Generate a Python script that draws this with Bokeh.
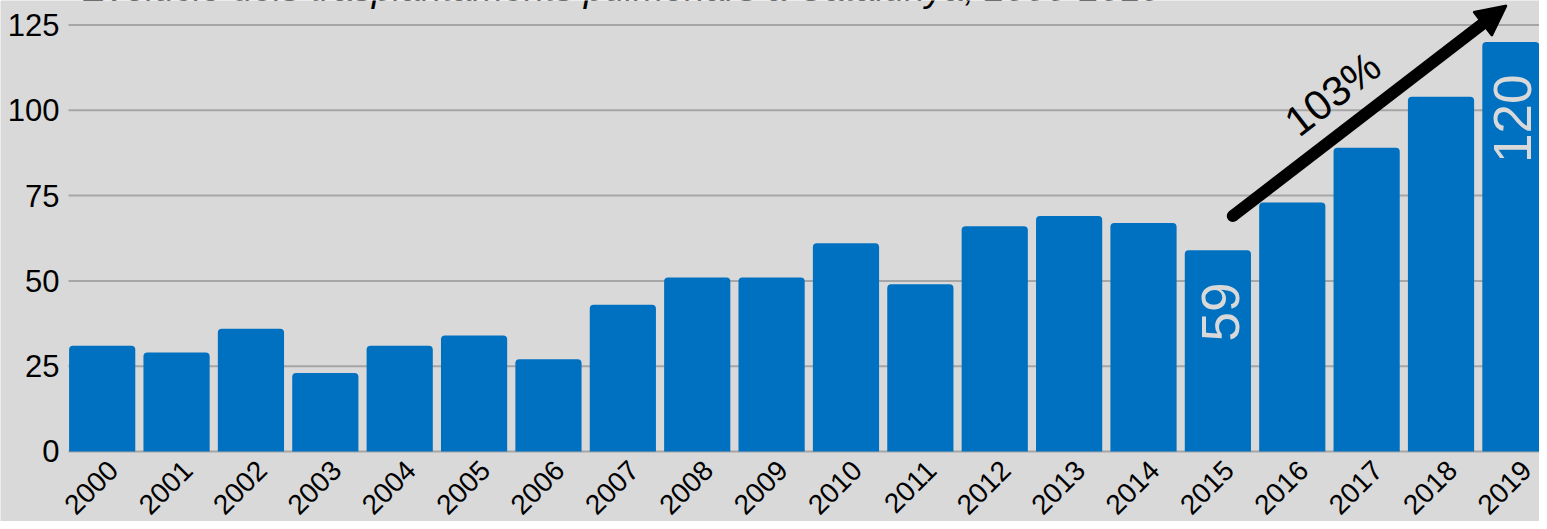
import math
from bokeh.plotting import figure
from bokeh.models import Range1d, Arrow, NormalHead, Label, ColumnDataSource
from bokeh.embed import file_html
from bokeh.resources import INLINE
from bokeh.core.properties import value

# ---- data ----
years = list(range(2000, 2020))
year_labels = [str(y) for y in years]
transplants = [31, 29, 36, 23, 31, 34, 27, 43, 51, 51, 61, 49, 66, 69, 67, 59, 73, 89, 104, 120]
y_ticks = [0, 25, 50, 75, 100, 125]
y_tick_labels = [str(t) for t in y_ticks]
labelled_idx = [15, 19]          # bars whose value is written inside (2015, 2019)
title_text = "Evolució dels trasplantaments pulmonars a Catalunya, 2000-2019"

# ---- styles / layout ----
BG = "#d9d9d9"
BAR = "#0070c0"
GRID = "#a6a6a6"
FONT = "Liberation Sans"
W, H = 1539, 521
PLOT_X0 = 1999.547               # left edge of the plotting area (data units)
AXIS_PAD = 0.121                 # gap between y labels and plotting area
YEAR_SHIFT = 0.15                # year labels end slightly right of bar centre
YEAR_DROP = 4.1                  # year labels sit this far below the zero line
VALUE_INSET = 9.5                # value labels end this far under bar top
VALUE_DX = [0.04, -0.04]

# the frame covers the whole figure; axes are drawn as text/segment marks so that
# rotated year labels and tick labels are never clipped by a frame border
p = figure(width=W, height=H, output_backend="svg", toolbar_location=None,
           x_range=Range1d(1998.633, 2019.324), y_range=Range1d(-20.52, 132.18),
           min_border_left=0, min_border_right=0, min_border_top=0, min_border_bottom=0)
p.background_fill_color = BG
p.border_fill_color = BG
p.outline_line_color = None
p.grid.grid_line_color = None
p.xaxis.visible = False
p.yaxis.visible = False

# horizontal gridlines
xr_end = p.x_range.end
p.segment(x0=[PLOT_X0] * len(y_ticks), y0=y_ticks, x1=[xr_end] * len(y_ticks), y1=y_ticks,
          line_color=GRID, line_width=2)

# y tick labels
p.text(x=[PLOT_X0 - AXIS_PAD] * len(y_ticks), y=y_ticks, text=y_tick_labels,
       text_align="right", text_baseline="middle", text_color="black",
       text_font=value(FONT), text_font_size="31px")

# bars
src = ColumnDataSource(dict(year=years, n=transplants))
p.vbar(x="year", top="n", width=0.89, source=src, fill_color=BAR, line_color=None,
       border_radius=(4, 4, 0, 0))

# rotated year labels under the bars
ys = ColumnDataSource(dict(x=[y + YEAR_SHIFT for y in years],
                           y=[-YEAR_DROP] * len(years), t=year_labels))
p.text(x="x", y="y", text="t", source=ys, angle=math.pi / 4, text_align="right",
       text_baseline="middle", text_color="black", text_font=value(FONT),
       text_font_size="28px")

# values written inside bars
lab = ColumnDataSource(dict(x=[years[i] + d for i, d in zip(labelled_idx, VALUE_DX)],
                            y=[transplants[i] - VALUE_INSET for i in labelled_idx],
                            t=[str(transplants[i]) for i in labelled_idx]))
p.text(x="x", y="y", text="t", source=lab, angle=math.pi / 2, text_align="right",
       text_baseline="middle", text_color=BG, text_font=value(FONT), text_font_size="53px")

# growth arrow 2015 -> 2019
a, b = labelled_idx
x0, y0 = years[a] + 0.2, transplants[a] + 10
x1, y1 = years[b] - 0.12, transplants[b] + 10.7
p.add_layout(Arrow(x_start=x0, y_start=y0, x_end=x1, y_end=y1, line_width=12,
                   line_color="black", line_cap="butt",
                   end=NormalHead(size=30, fill_color="black", line_color="black", line_width=2)))
p.scatter(x=[x0], y=[y0], size=12, marker="circle", fill_color="black", line_color=None)
growth = round((transplants[b] - transplants[a]) / transplants[a] * 100)
p.add_layout(Label(x=(x0 + x1) / 2, y=(y0 + y1) / 2, text=f"{growth}%", angle=0.66,
                   text_align="center", text_baseline="middle", x_offset=-37, y_offset=17,
                   text_font=FONT, text_font_size="42px", text_color="black"))

# title (sits at the very top edge, mostly cut off as in the original)
p.add_layout(Label(x=years[0] - 0.27, y=135.6, text=title_text, text_align="left",
                   text_baseline="middle", text_font=FONT, text_font_style="italic",
                   text_font_size="37px", text_color="black"))

open("out.html", "w").write(file_html(p, INLINE))
